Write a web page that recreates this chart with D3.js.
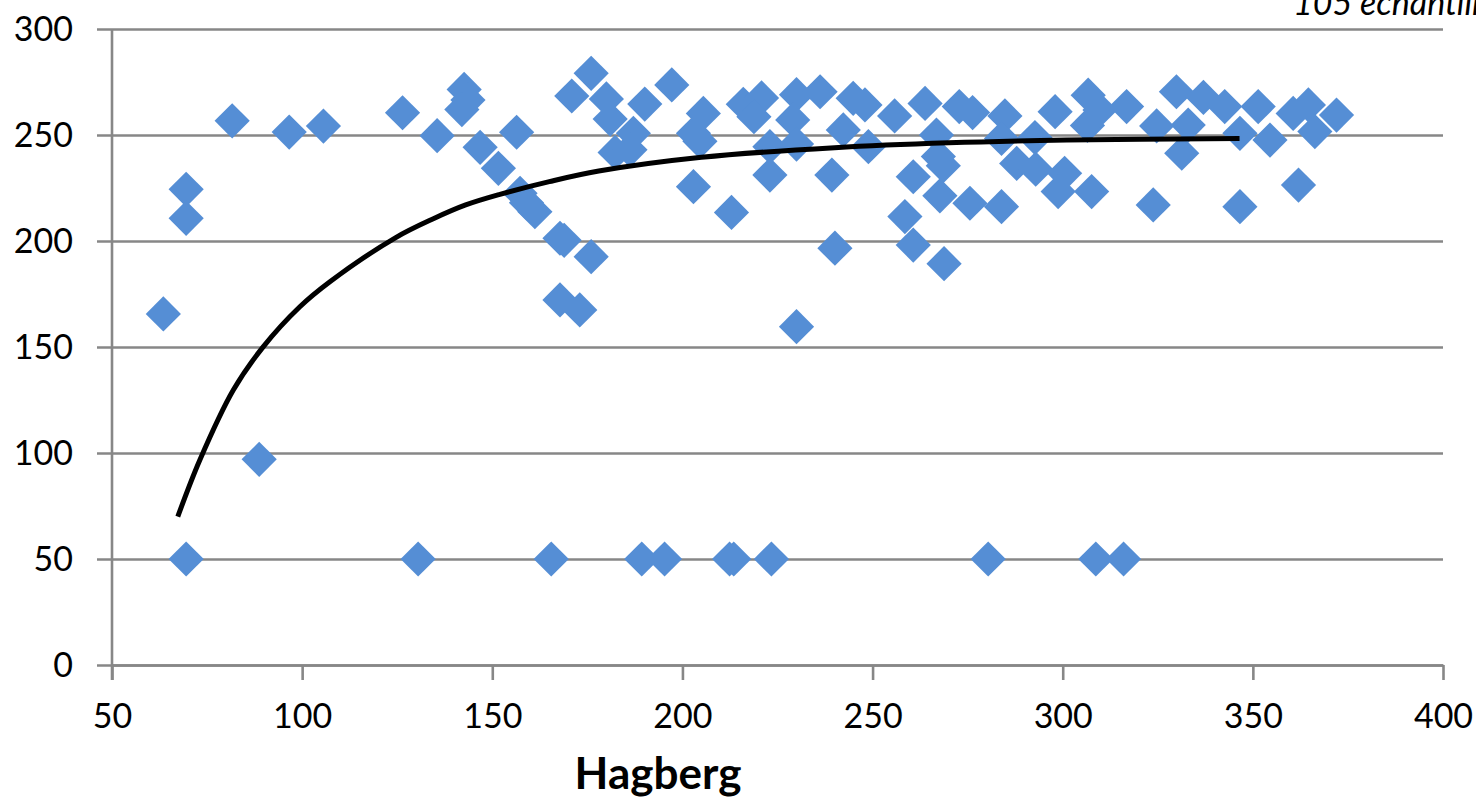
<!DOCTYPE html>
<html>
<head>
<meta charset="utf-8">
<script src="https://cdn.jsdelivr.net/npm/d3@7"></script>
<style>
  body { margin: 0; background: #fff; overflow: hidden; }
  text { font-family: Lato, 'Open Sans', sans-serif; fill: #000; }
</style>
</head>
<body>
<svg id="canvas"></svg>
<script>
// Scatter data: Hagberg (x) vs second measure (y)
var hagberg = [
  63.5, 69.5, 69.5, 81.6, 88.7, 96.6, 105.6, 126.4, 135.5, 142.6,
  143.6, 142.0, 146.8, 151.6, 156.4, 157.3, 159.0, 161.2, 167.8, 168.9,
  176.0, 167.8, 173.0, 176.0, 170.9, 180.0, 181.0, 187.1, 182.3, 186.2,
  190.1, 197.2, 202.9, 205.5, 204.6, 202.9, 212.9, 216.0, 220.8, 218.8,
  223.0, 223.0, 230.0, 229.0, 230.0, 236.2, 244.9, 248.0, 242.3, 248.9,
  239.3, 240.1, 230.0, 255.8, 263.8, 266.8, 267.3, 268.6, 260.7, 258.5,
  260.7, 268.8, 267.7, 272.8, 276.3, 284.8, 283.9, 275.6, 283.9, 287.9,
  292.9, 298.0, 292.7, 300.5, 298.8, 307.6, 306.7, 306.5, 309.8, 316.8,
  324.7, 323.8, 329.9, 333.0, 331.3, 337.0, 342.6, 346.6, 346.6, 351.4,
  354.5, 360.6, 364.6, 366.3, 372.0, 362.0,
  69.5, 130.5, 165.5, 189.3, 195.3, 212.4, 213.5, 223.4, 280.4, 308.7, 316.0
];
var measure = [
  165.6, 224.4, 210.7, 256.7, 97.0, 251.4, 254.2, 260.5, 249.7, 271.5,
  266.5, 262.0, 244.2, 234.3, 251.3, 222.5, 218.0, 213.8, 201.3, 200.3,
  192.6, 172.2, 167.5, 279.1, 268.4, 267.0, 257.5, 250.8, 241.8, 243.0,
  264.6, 273.6, 250.8, 260.2, 247.0, 225.6, 213.5, 264.5, 267.5, 258.6,
  244.5, 231.1, 269.0, 257.1, 245.7, 270.4, 267.3, 264.2, 252.4, 244.5,
  231.1, 196.6, 159.6, 259.0, 264.9, 250.0, 239.8, 235.5, 230.3, 211.5,
  198.1, 189.3, 221.3, 263.4, 260.6, 259.0, 248.4, 217.8, 216.2, 236.6,
  233.9, 261.0, 248.8, 231.9, 223.3, 223.3, 268.8, 254.5, 261.8, 263.4,
  254.3, 217.0, 270.4, 254.7, 241.4, 267.7, 263.4, 250.8, 216.2, 263.4,
  247.6, 260.2, 264.2, 251.6, 259.4, 226.4,
  50, 50, 50, 50, 50, 50, 50, 50, 50, 50, 50
];

// Trend line
var trendX = [67.3, 73.1, 81.9, 89.8, 99.4, 107.3, 124.5, 134.5, 143, 152, 165, 178, 205, 240, 270, 301, 346.5];
var trendY = [70, 96.7, 129.7, 150.2, 169, 180.8, 201.5, 210.5, 217, 222, 228, 233, 239.5, 244, 246.3, 247.6, 248.4];

// Ticks
var xTicks = [50, 100, 150, 200, 250, 300, 350, 400];
var yTicks = [0, 50, 100, 150, 200, 250, 300];

var xTitle = 'Hagberg';
var cornerNote = '105 echantillons';

// Canvas size
var canvasWidth = 1476;
var canvasHeight = 797;

var plot = {
  left: 112,
  right: 1443,
  top: 29,
  bottom: 665
};

var gridColor = '#878787';

function drawChart() {
  var svg = d3.select('#canvas')
    .attr('width', canvasWidth)
    .attr('height', canvasHeight);

  // Scales
  var xScale = d3.scaleLinear()
    .domain([50, 400])
    .range([plot.left, plot.right]);

  var yScale = d3.scaleLinear()
    .domain([0, 300])
    .range([plot.bottom, plot.top]);

  // Gridlines (drawn as y axis ticks stretched across)
  var yAxis = d3.axisLeft(yScale)
    .tickValues(yTicks)
    .tickSizeInner(-(plot.right - plot.left))
    .tickSizeOuter(0)
    .tickPadding(39)
    .tickFormat(d3.format('d'));

  var yAxisGroup = svg.append('g')
    .attr('class', 'y-axis')
    .attr('transform', 'translate(' + plot.left + ',0)')
    .call(yAxis);

  yAxisGroup.select('.domain').remove();
  yAxisGroup.selectAll('.tick line')
    .attr('x1', -15)
    .attr('stroke', gridColor)
    .attr('stroke-width', 2.6);
  yAxisGroup.selectAll('.tick text')
    .attr('font-size', 34)
    .attr('dy', '0.34em');

  // X axis
  var xAxis = d3.axisBottom(xScale)
    .tickValues(xTicks)
    .tickSizeInner(15)
    .tickSizeOuter(0)
    .tickPadding(24)
    .tickFormat(d3.format('d'));

  var xAxisGroup = svg.append('g')
    .attr('class', 'x-axis')
    .attr('transform', 'translate(0,' + plot.bottom + ')')
    .call(xAxis);

  xAxisGroup.select('.domain')
    .attr('stroke', gridColor)
    .attr('stroke-width', 2.6);
  xAxisGroup.selectAll('.tick line')
    .attr('stroke', gridColor)
    .attr('stroke-width', 2.6);
  xAxisGroup.selectAll('.tick text')
    .attr('font-size', 34);

  // Vertical axis line
  svg.append('line')
    .attr('x1', plot.left)
    .attr('x2', plot.left)
    .attr('y1', plot.top)
    .attr('y2', plot.bottom + 15)
    .attr('stroke', gridColor)
    .attr('stroke-width', 2.6);

  // Dots
  var diamond = d3.symbol()
    .type(d3.symbolSquare)
    .size(620);

  svg.append('g')
    .classed('dots', true)
    .selectAll('.dot')
    .data(d3.range(hagberg.length))
    .enter()
    .append('path')
    .attr('class', 'dot')
    .attr('d', diamond)
    .attr('fill', '#558ED5')
    .attr('transform', function(i) {
      return 'translate(' + xScale(hagberg[i]) + ',' + yScale(measure[i]) + ') rotate(45)';
    });

  // Trend line
  var trendLine = d3.line()
    .x(function(i) {
      return xScale(trendX[i]);
    })
    .y(function(i) {
      return yScale(trendY[i]);
    })
    .curve(d3.curveCatmullRom.alpha(0.5));

  svg.append('path')
    .datum(d3.range(trendX.length))
    .attr('d', trendLine)
    .attr('fill', 'none')
    .attr('stroke', '#000')
    .attr('stroke-width', 5);

  // Axis title
  svg.append('text')
    .attr('x', 658)
    .attr('y', 789)
    .attr('text-anchor', 'middle')
    .attr('font-size', 44)
    .attr('font-weight', 'bold')
    .text(xTitle);

  // Note in the corner, clipped by the top edge as in the original
  svg.append('text')
    .attr('x', 1293)
    .attr('y', 15)
    .attr('font-size', 34)
    .attr('font-style', 'italic')
    .text(cornerNote);
}

drawChart();
</script>
</body>
</html>
